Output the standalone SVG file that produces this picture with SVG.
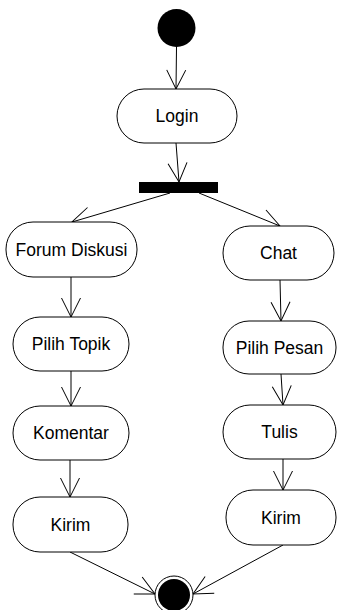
<svg xmlns="http://www.w3.org/2000/svg" width="337" height="610" viewBox="0 0 337 610">
<style>
.node rect{fill:#fff;stroke:#000;stroke-width:1}
.node text{font-family:"Liberation Sans",Arial,sans-serif;font-size:17.5px;fill:#000;text-anchor:middle}
#edges line{stroke:#000;stroke-width:1;marker-end:url(#arr)}
</style>
<defs>
<marker id="arr" markerUnits="userSpaceOnUse" orient="auto" refX="0" refY="0" markerWidth="30" markerHeight="30" overflow="visible">
<path d="M-19,-9.5 L0,0 L-19,9.5" fill="none" stroke="#000" stroke-width="1"/>
</marker>
</defs>
<rect width="337" height="610" fill="#fff"/>
<g id="edges">
<line x1="176.5" y1="47" x2="176" y2="89"/>
<line x1="176" y1="143" x2="179" y2="182"/>
<line x1="170" y1="193" x2="72" y2="222"/>
<line x1="199" y1="193" x2="280" y2="226"/>
<line x1="71" y1="277" x2="71" y2="317"/>
<line x1="280" y1="280" x2="281" y2="321"/>
<line x1="71" y1="371" x2="71" y2="406"/>
<line x1="281" y1="374" x2="283" y2="405"/>
<line x1="70" y1="460" x2="70" y2="497"/>
<line x1="283" y1="459" x2="283" y2="490"/>
<line x1="70" y1="552" x2="155" y2="594"/>
<line x1="283" y1="545" x2="193" y2="594"/>
</g>
<g id="start"><circle cx="176.5" cy="28" r="19" fill="#000"/></g>
<g id="login" class="node"><rect x="117" y="89" width="120" height="54" rx="27"/><text x="177" y="122">Login</text></g>
<g id="fork"><rect x="139" y="182" width="79" height="11" fill="#000"/></g>
<g id="forum" class="node"><rect x="6" y="222" width="131" height="55" rx="27"/><text x="71.5" y="256">Forum Diskusi</text></g>
<g id="chat" class="node"><rect x="223" y="226" width="111" height="54" rx="27"/><text x="278.5" y="259">Chat</text></g>
<g id="pilihTopik" class="node"><rect x="13" y="317" width="116" height="54" rx="27"/><text x="71" y="350">Pilih Topik</text></g>
<g id="pilihPesan" class="node"><rect x="223" y="321" width="113" height="53" rx="26"/><text x="279.5" y="354">Pilih Pesan</text></g>
<g id="komentar" class="node"><rect x="13" y="406" width="116" height="54" rx="27"/><text x="71" y="439">Komentar</text></g>
<g id="tulis" class="node"><rect x="223" y="405" width="113" height="54" rx="27"/><text x="279.5" y="438">Tulis</text></g>
<g id="kirim1" class="node"><rect x="13" y="497" width="115" height="55" rx="27"/><text x="70.5" y="531">Kirim</text></g>
<g id="kirim2" class="node"><rect x="226" y="490" width="110" height="55" rx="27"/><text x="281" y="524">Kirim</text></g>
<g id="end"><circle cx="174" cy="595" r="19" fill="#fff" stroke="#000" stroke-width="1"/><circle cx="174" cy="595" r="16" fill="#000"/></g>
</svg>
